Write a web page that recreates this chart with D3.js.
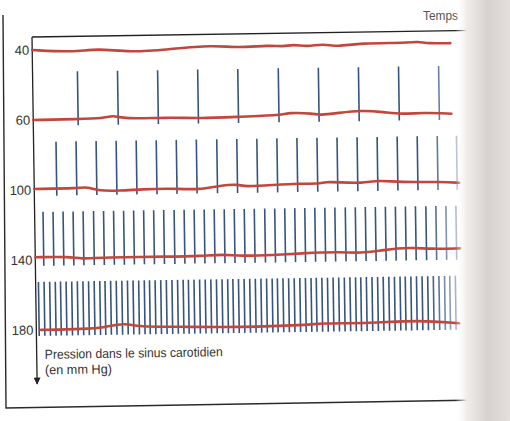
<!DOCTYPE html>
<html>
<head>
<meta charset="utf-8">
<script src="https://cdn.jsdelivr.net/npm/d3@7"></script>
<style>
  body { margin: 0; background: #fff; }
  svg { display: block; font-family: "Liberation Sans", Arial, sans-serif; }
  .row-label { font-size: 13px; fill: #333; }
  .axis-title { font-size: 13px; fill: #333; }
  .time-label { font-size: 12px; fill: #555; }
</style>
</head>
<body>
<script>
// carotid sinus pressure (mm Hg), one row each
var pressures = ["40", "60", "100", "140", "180"];

// nerve spike times (s)
var spikes40 = [];
var spikes60 = [1.12, 2.12, 3.12, 4.12, 5.12, 6.13, 7.13, 8.13, 9.13, 10.13];
var spikes100 = [0.56, 1.06, 1.56, 2.06, 2.56, 3.06, 3.56, 4.06, 4.57, 5.07, 5.57,
  6.07, 6.57, 7.07, 7.57, 8.07, 8.57, 9.07, 9.57, 10.07, 10.55];
var spikes140 = [0.21, 0.46, 0.71, 0.96, 1.21, 1.47, 1.72, 1.97, 2.22, 2.47, 2.72,
  2.97, 3.22, 3.48, 3.73, 3.98, 4.23, 4.48, 4.73, 4.98, 5.23, 5.48, 5.74, 5.99,
  6.24, 6.49, 6.74, 6.99, 7.24, 7.49, 7.75, 8.00, 8.25, 8.50, 8.75, 9.00, 9.25,
  9.50, 9.76, 10.01, 10.26, 10.51];
var spikes180 = [0.07, 0.21, 0.35, 0.49, 0.62, 0.76, 0.90, 1.04, 1.18, 1.32, 1.46,
  1.60, 1.73, 1.87, 2.01, 2.15, 2.29, 2.43, 2.57, 2.71, 2.84, 2.98, 3.12, 3.26,
  3.40, 3.54, 3.68, 3.81, 3.95, 4.09, 4.23, 4.37, 4.51, 4.65, 4.79, 4.92, 5.06,
  5.20, 5.34, 5.48, 5.62, 5.76, 5.90, 6.03, 6.17, 6.31, 6.45, 6.59, 6.73, 6.87,
  7.00, 7.14, 7.28, 7.42, 7.56, 7.70, 7.84, 7.98, 8.11, 8.25, 8.39, 8.53, 8.67,
  8.81, 8.95, 9.09, 9.22, 9.36, 9.50, 9.64, 9.78, 9.92, 10.06, 10.20, 10.33, 10.47];

// pressure trace wobble: [time s, deviation from row line]
var trace40 = [[0, 0], [1.02, 2.9], [1.62, -0.7], [2.44, 3.8], [3.37, 1.4], [4.51, -2.2],
  [5.11, 0.9], [5.94, -1.3], [6.26, 0.6], [6.51, -1.9], [6.86, 1], [7.26, -2.1],
  [7.61, 1.5], [8.18, -2.2], [9.35, -1.4], [9.63, -2.9], [9.86, -0.5], [10.43, -0.7]];
var trace60 = [[0, 0], [1.12, -0.3], [1.75, -0.5], [2.0, -3.7], [2.25, 0.4], [3.37, -0.6],
  [4.14, 0.9], [5.11, -0.1], [6.19, -1.1], [6.36, -3.7], [7.01, -2.3], [7.13, -0.5],
  [7.61, -2.5], [8.18, -4.9], [8.75, -2.8], [9.18, -0.2], [9.75, -1.6], [10.43, -0.1]];
var trace100 = [[0, -1], [1.12, -1], [1.32, -2.5], [1.62, 2], [2.12, 2], [2.69, 0.9],
  [3.37, 0.3], [4.12, 2.5], [4.69, -2.2], [5.11, -2.6], [5.24, -0.1], [5.94, -1.4],
  [6.61, -2.7], [7.11, -1.7], [7.26, -3.9], [7.61, -3.1], [8.18, -1.8], [8.61, -4.8],
  [9.10, -2.2], [10.18, -2.2], [10.6, -0.9]];
var trace140 = [[0, -2.7], [0.87, -2.8], [1.12, -0.3], [1.7, -1.7], [3.37, -1.3],
  [4.12, -1.5], [4.69, -2.9], [5.11, -0.9], [5.94, -1.4], [6.61, -2.7], [7.61, -3.7],
  [8.11, -1.8], [8.68, -4.8], [9.35, -7.1], [9.85, -5.1], [10.6, -5.3]];
var trace180 = [[0.12, 0], [1.2, -0.3], [1.7, -1.5], [2.02, -4.5], [2.32, -4.6],
  [2.52, -1.8], [3.52, -1.2], [5.11, 0.4], [6.76, -0.9], [7.06, -2.5], [8.31, -1.7],
  [9.55, -4.3], [10.55, -0.4]];

var rows = [
  {p: "40", spikes: spikes40, trace: trace40},
  {p: "60", spikes: spikes60, trace: trace60},
  {p: "100", spikes: spikes100, trace: trace100},
  {p: "140", spikes: spikes140, trace: trace140},
  {p: "180", spikes: spikes180, trace: trace180}
];

var w = 510, h = 421;

var x = d3.scaleLinear().domain([0, 11]).range([32, 473]);
var y = d3.scalePoint().domain(pressures).range([50, 330]);
var dev = d3.scaleLinear().domain([-10, 10]).range([-10, 10]);

// spikes fade out toward the page gutter
var spikeColor = d3.scaleLinear().domain([425, 460])
  .range(["#36547d", "#c6c9e4"]).clamp(true);

var svg = d3.select("body").append("svg")
  .attr("width", w)
  .attr("height", h);

var defs = svg.append("defs");
defs.append("marker")
  .attr("id", "arrow")
  .attr("viewBox", "0 0 10 10")
  .attr("refX", 9).attr("refY", 5)
  .attr("markerWidth", 9).attr("markerHeight", 7)
  .attr("markerUnits", "userSpaceOnUse")
  .attr("orient", "auto")
  .append("path")
  .attr("d", "M0,0L10,5L0,10Z")
  .attr("fill", "#222");

var grad = defs.append("linearGradient")
  .attr("id", "gutter")
  .attr("x1", 0).attr("x2", 1).attr("y1", 0).attr("y2", 0);
grad.append("stop").attr("offset", "0%").attr("stop-color", "#fff").attr("stop-opacity", 0);
grad.append("stop").attr("offset", "22%").attr("stop-color", "#efecea").attr("stop-opacity", 1);
grad.append("stop").attr("offset", "60%").attr("stop-color", "#d7d2cf");
grad.append("stop").attr("offset", "100%").attr("stop-color", "#e3dfdc");

// outer frame of the figure
svg.append("path")
  .attr("d", "M3,15L6,408L480,400")
  .attr("fill", "none")
  .attr("stroke", "#2a2a2a")
  .attr("stroke-width", 1.4);

// the scan is slightly tilted
var g = svg.append("g")
  .attr("transform", "rotate(-0.85, 32, 37)");

// time axis (top) and pressure axis (left)
g.append("line")
  .attr("x1", x(0)).attr("x2", x(11))
  .attr("y1", 37).attr("y2", 37)
  .attr("stroke", "#222").attr("stroke-width", 1.3)
  .attr("marker-end", "url(#arrow)");

g.append("line")
  .attr("x1", x(0)).attr("x2", x(0))
  .attr("y1", 37).attr("y2", 384)
  .attr("stroke", "#222").attr("stroke-width", 1.3)
  .attr("marker-end", "url(#arrow)");

var row = g.selectAll("g.row")
  .data(rows)
  .enter().append("g")
  .attr("class", "row");

row.selectAll("line.spike")
  .data(function (d) { return d.spikes.map(function (t) { return {t: t, p: d.p}; }); })
  .enter().append("line")
  .attr("class", "spike")
  .attr("x1", function (d) { return x(d.t); })
  .attr("x2", function (d) { return x(d.t); })
  .attr("y1", function (d) { return y(d.p) - 48; })
  .attr("y2", function (d) { return y(d.p) + 6; })
  .attr("stroke", function (d) { return spikeColor(x(d.t)); })
  .attr("stroke-width", 1.6);

row.append("path")
  .attr("class", "trace")
  .attr("d", function (d) {
    return d3.line()
      .x(function (v) { return x(v[0]); })
      .y(function (v) { return y(d.p) + dev(v[1]); })
      .curve(d3.curveBasis)(d.trace);
  })
  .attr("fill", "none")
  .attr("stroke", "#c3463c")
  .attr("stroke-width", 2.6)
  .attr("stroke-linecap", "round");

row.append("text")
  .attr("class", "row-label")
  .attr("x", x(0) - 3)
  .attr("y", function (d) { return y(d.p); })
  .attr("dy", "0.35em")
  .attr("text-anchor", "end")
  .text(function (d) { return d.p; });

var title = g.append("text")
  .attr("class", "axis-title")
  .attr("x", 40)
  .attr("y", 359);
title.append("tspan")
  .attr("x", 40)
  .attr("textLength", 178)
  .attr("lengthAdjust", "spacingAndGlyphs")
  .text("Pression dans le sinus carotidien");
title.append("tspan")
  .attr("x", 40)
  .attr("dy", 15.5)
  .attr("textLength", 67)
  .attr("lengthAdjust", "spacingAndGlyphs")
  .text("(en mm Hg)");

svg.append("text")
  .attr("class", "time-label")
  .attr("x", 423)
  .attr("y", 20)
  .attr("textLength", 35)
  .attr("lengthAdjust", "spacingAndGlyphs")
  .text("Temps");

// page gutter shading on the right
svg.append("rect")
  .attr("x", 455).attr("y", 0)
  .attr("width", w - 455).attr("height", h)
  .attr("fill", "url(#gutter)");
</script>
</body>
</html>
